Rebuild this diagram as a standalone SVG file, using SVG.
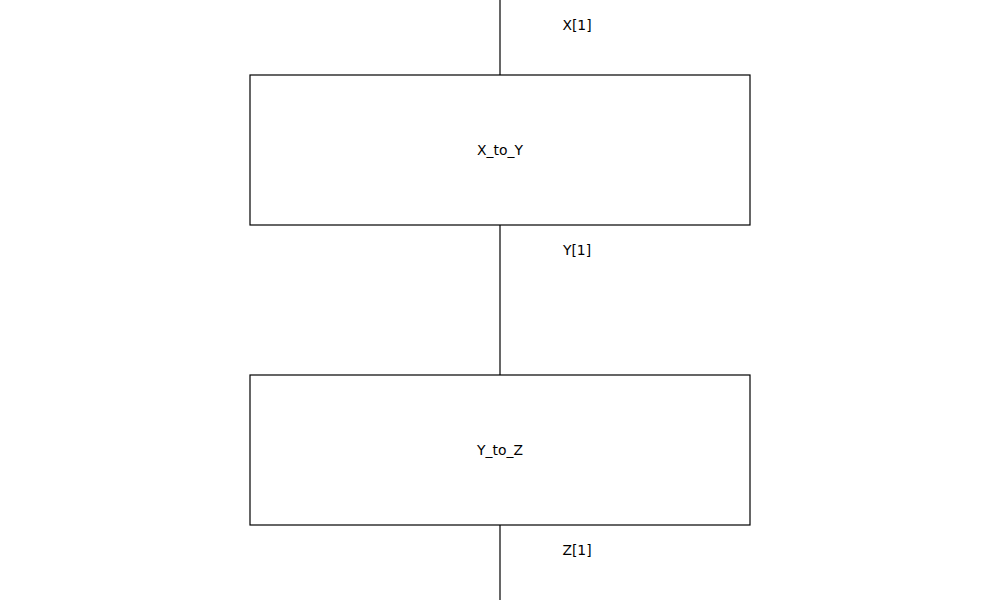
<svg xmlns="http://www.w3.org/2000/svg" width="1000" height="600" viewBox="0 0 1000 600">
<style>
.box{fill:#fff;stroke:#000;stroke-width:1.2}
.wire{stroke:#000;stroke-width:1.2;fill:none}
text{font-family:"DejaVu Sans",sans-serif;font-size:13.9px;fill:#000;text-anchor:middle;dominant-baseline:central}
</style>
<rect width="1000" height="600" fill="#fff"/>
<g id="connectors">
<line class="wire" x1="500" y1="0" x2="500" y2="75"/>
<line class="wire" x1="500" y1="225" x2="500" y2="375"/>
<line class="wire" x1="500" y1="525" x2="500" y2="600"/>
<text x="577" y="25">X[1]</text>
<text x="577" y="250">Y[1]</text>
<text x="577" y="550">Z[1]</text>
</g>
<g id="X_to_Y">
<rect class="box" x="250" y="75" width="500" height="150"/>
<text x="500" y="150">X_to_Y</text>
</g>
<g id="Y_to_Z">
<rect class="box" x="250" y="375" width="500" height="150"/>
<text x="500" y="450">Y_to_Z</text>
</g>
</svg>
